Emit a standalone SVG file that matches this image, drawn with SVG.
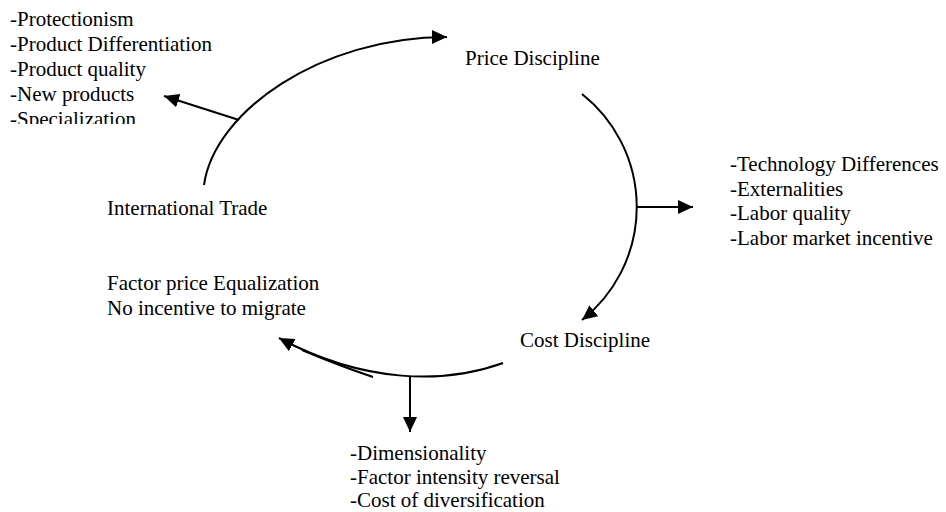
<svg xmlns="http://www.w3.org/2000/svg" width="946" height="512" viewBox="0 0 946 512">
  <defs>
    <style>
      .link { fill: none; stroke: #000; stroke-width: 2; }
      .arrow { marker-end: url(#head); }
    </style>
    <marker id="head" markerUnits="userSpaceOnUse" markerWidth="16" markerHeight="15" refX="15" refY="7" orient="auto">
      <path d="M0,0 L15,7 L0,14 z" fill="#000"/>
    </marker>
    <clipPath id="listClip">
      <rect x="0" y="0" width="300" height="124"/>
    </clipPath>
  </defs>
  <rect width="946" height="512" fill="#fff"/>

  <g id="connectors">
    <!-- International Trade -> Price Discipline -->
    <path class="link arrow" d="M204,185 C214,112 320,37 447,37"/>
    <!-- branch to trade effects list -->
    <path class="link arrow" d="M239,120 L164,96"/>
    <!-- Price Discipline -> Cost Discipline -->
    <path class="link arrow" d="M582,94 A144,144 0 0 1 582,320"/>
    <!-- branch to technology list -->
    <path class="link arrow" d="M637,207 L693,207"/>
    <!-- Cost Discipline -> factor price equalization -->
    <path class="link arrow" d="M503,363 C445,384 365,384 279,338"/>
    <path class="link" d="M373,377 Q340,366 302,350"/>
    <!-- branch to cost list -->
    <path class="link arrow" d="M410,377 L410,432"/>
  </g>

  <g font-family="Liberation Serif" font-size="21" fill="#000">
    <g id="trade-effects" clip-path="url(#listClip)">
      <text x="10" y="26">-Protectionism</text>
      <text x="10" y="51">-Product Differentiation</text>
      <text x="10" y="76">-Product quality</text>
      <text x="10" y="101">-New products</text>
      <text x="10" y="126">-Specialization</text>
    </g>

    <g id="price-discipline">
      <text x="465" y="65">Price Discipline</text>
    </g>

    <g id="technology-factors">
      <text x="730" y="171">-Technology Differences</text>
      <text x="730" y="195.5">-Externalities</text>
      <text x="730" y="220">-Labor quality</text>
      <text x="730" y="244.5">-Labor market incentive</text>
    </g>

    <g id="international-trade">
      <text x="107" y="215">International Trade</text>
    </g>

    <g id="factor-price">
      <text x="107" y="290">Factor price Equalization</text>
      <text x="107" y="315">No incentive to migrate</text>
    </g>

    <g id="cost-discipline">
      <text x="520" y="347">Cost Discipline</text>
    </g>

    <g id="cost-factors">
      <text x="350" y="460">-Dimensionality</text>
      <text x="350" y="484">-Factor intensity reversal</text>
      <text x="350" y="507">-Cost of diversification</text>
    </g>
  </g>
</svg>
